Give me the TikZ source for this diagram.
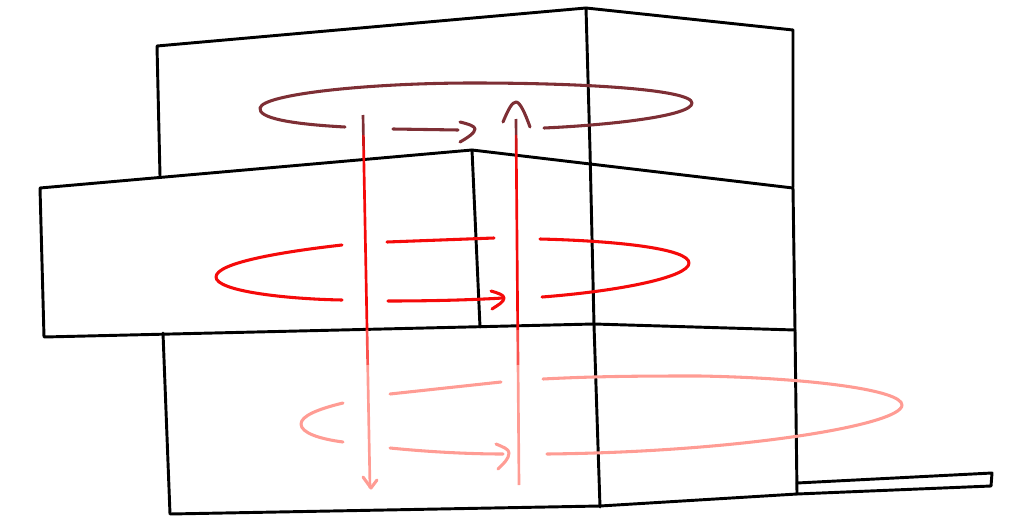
\documentclass[tikz,border=0pt]{standalone}
\definecolor{topring}{HTML}{7E2F35}
\definecolor{midring}{HTML}{F50A0A}
\definecolor{lowring}{HTML}{FF9C94}
\tikzset{
  wall/.style={draw=black,line width=2.2pt,line join=round,line cap=round},
  ring/.style={line width=2.3pt,line cap=round,line join=round},
  shaft/.style={line width=2pt,line cap=butt},
}
\begin{document}
\begin{tikzpicture}[x=0.75pt,y=-0.75pt]
\useasboundingbox (0,0) rectangle (1016,517);
% building
\draw[wall] (160,176) -- (157,46) -- (586,8) -- (793,30) -- (793,187);
\draw[wall] (586,8) -- (590,150) -- (594,325) -- (600,507);
\draw[wall] (40,188) -- (472,150) -- (793,188) -- (795,330) -- (594,324) -- (44,337) -- cycle;
\draw[wall] (472,150) -- (480,327);
\draw[wall] (163,333) -- (170,514) -- (600,506) -- (797,494) -- (795,330);
\draw[wall] (797,483) -- (992,473) -- (991,486) -- (797,494);
% top ring
\begin{scope}[ring,topring]
\draw (345,127) .. controls (290,124) and (258,118) .. (260,108) .. controls (263,94) and (370,83) .. (473,83) .. controls (590,83) and (692,90) .. (692,103) .. controls (692,116) and (610,125) .. (544,128);
\draw (393,129) -- (458,130);
\draw (460,122) .. controls (468,124) and (475,126) .. (475,129) .. controls (475,133) and (467,138) .. (460,142);
\draw (503,122) .. controls (508,110) and (512,102) .. (516,102) .. controls (520,102) and (525,113) .. (530,127);
\end{scope}
% middle ring
\begin{scope}[ring,midring]
\draw (342,245) .. controls (280,252) and (216,263) .. (216,277) .. controls (216,291) and (285,299) .. (342,300);
\draw (387,242) -- (494,238);
\draw (540,239) .. controls (620,241) and (689,249) .. (689,263) .. controls (689,277) and (620,291) .. (542,297);
\draw (388,301) .. controls (430,301) and (470,300) .. (503,298);
\draw (491,291) .. controls (498,293) and (504,295) .. (504,298) .. controls (504,302) and (498,305) .. (492,309);
\end{scope}
% lower ring
\begin{scope}[ring,lowring]
\draw (343,403) .. controls (318,409) and (301,416) .. (301,424) .. controls (301,433) and (320,439) .. (343,442);
\draw (390,394) -- (501,382);
\draw (543,379) .. controls (600,376) and (650,376) .. (700,376) .. controls (810,378) and (902,390) .. (902,405) .. controls (902,425) and (740,452) .. (547,454);
\draw (390,448) .. controls (430,452) and (470,454) .. (503,454);
\draw (496,444) .. controls (503,447) and (509,449) .. (509,453) .. controls (509,459) and (503,464) .. (498,469);
\draw (363,477) -- (371,488) -- (377,480);
\end{scope}
% shafts, colour changing from top to bottom
\foreach \ya/\yb/\c in {115/135/topring,135/150/midring!70!topring,150/330/midring,330/365/midring!50!lowring,365/488/lowring}{
  \draw[shaft,\c] ({363+(\ya-115)*7/373},\ya) -- ({363+(\yb-115)*7/373},\yb);
}
\foreach \ya/\yb/\c in {119/135/topring,135/150/midring!70!topring,150/330/midring,330/365/midring!50!lowring,365/485/lowring}{
  \draw[shaft,\c] ({516+(\ya-119)*3/366},\ya) -- ({516+(\yb-119)*3/366},\yb);
}
\end{tikzpicture}
\end{document}
